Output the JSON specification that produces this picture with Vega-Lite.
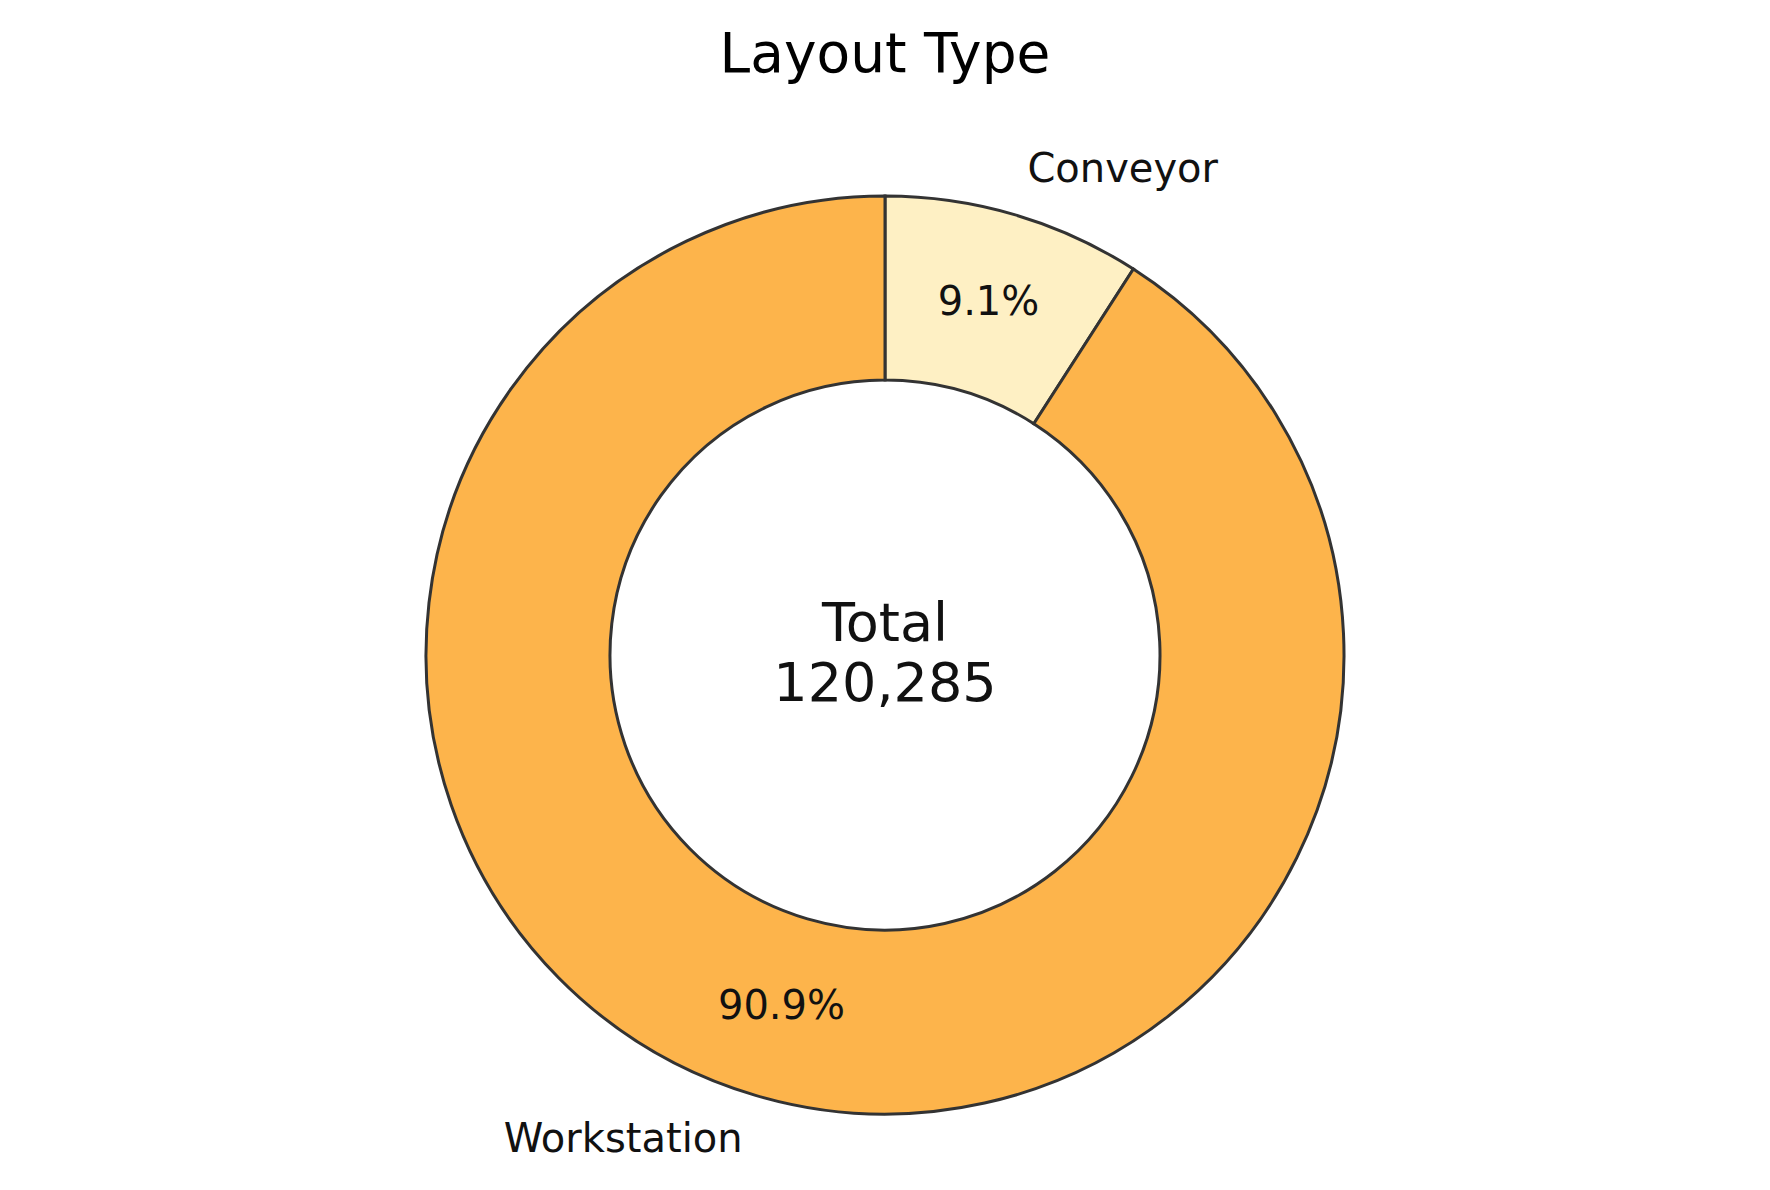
{
  "$schema": "https://vega.github.io/schema/vega-lite/v6.json",
  "autosize": {"type": "none"},
  "padding": {"top": 120, "left": 0, "right": 0, "bottom": 0},
  "width": 1770,
  "height": 1070,
  "background": "white",
  "title": {
    "text": "Layout Type",
    "font": "DejaVu Sans",
    "fontSize": 55,
    "fontWeight": "normal",
    "color": "#000000",
    "anchor": "middle",
    "offset": 36
  },
  "data": {
    "values": [
      {"type": "Conveyor", "value": 10946, "idx": 0},
      {"type": "Workstation", "value": 109339, "idx": 1}
    ]
  },
  "transform": [
    {"joinaggregate": [{"op": "sum", "field": "value", "as": "total"}]},
    {"calculate": "datum.value / datum.total", "as": "share"}
  ],
  "encoding": {
    "theta": {"field": "value", "type": "quantitative", "stack": true},
    "order": {"field": "idx", "type": "quantitative"}
  },
  "layer": [
    {
      "mark": {"type": "arc", "outerRadius": 459, "innerRadius": 275, "stroke": "#333333", "strokeWidth": 3},
      "encoding": {
        "color": {
          "field": "type",
          "type": "nominal",
          "scale": {"domain": ["Conveyor", "Workstation"], "range": ["#FEF0C4", "#FDB44B"]},
          "legend": null
        }
      }
    },
    {
      "mark": {"type": "text", "radius": 367, "font": "DejaVu Sans", "fontSize": 40, "color": "#111111", "align": "center", "baseline": "middle"},
      "encoding": {
        "text": {"field": "share", "type": "quantitative", "format": ".1%"}
      }
    },
    {
      "mark": {"type": "text", "radius": 505, "font": "DejaVu Sans", "fontSize": 40, "color": "#111111", "align": "left", "baseline": "middle"},
      "encoding": {
        "text": {"condition": {"test": "datum.type === 'Conveyor'", "field": "type"}, "value": ""}
      }
    },
    {
      "mark": {"type": "text", "radius": 505, "font": "DejaVu Sans", "fontSize": 40, "color": "#111111", "align": "right", "baseline": "middle"},
      "encoding": {
        "text": {"condition": {"test": "datum.type === 'Workstation'", "field": "type"}, "value": ""}
      }
    },
    {
      "transform": [
        {"aggregate": [{"op": "sum", "field": "value", "as": "sumv"}]},
        {"calculate": "['Total', format(datum.sumv, ',')]", "as": "center"}
      ],
      "mark": {"type": "text", "font": "DejaVu Sans", "fontSize": 54, "lineHeight": 60, "dy": -30, "color": "#111111", "align": "center", "baseline": "middle"},
      "encoding": {
        "theta": null,
        "order": null,
        "text": {"field": "center"}
      }
    }
  ]
}
